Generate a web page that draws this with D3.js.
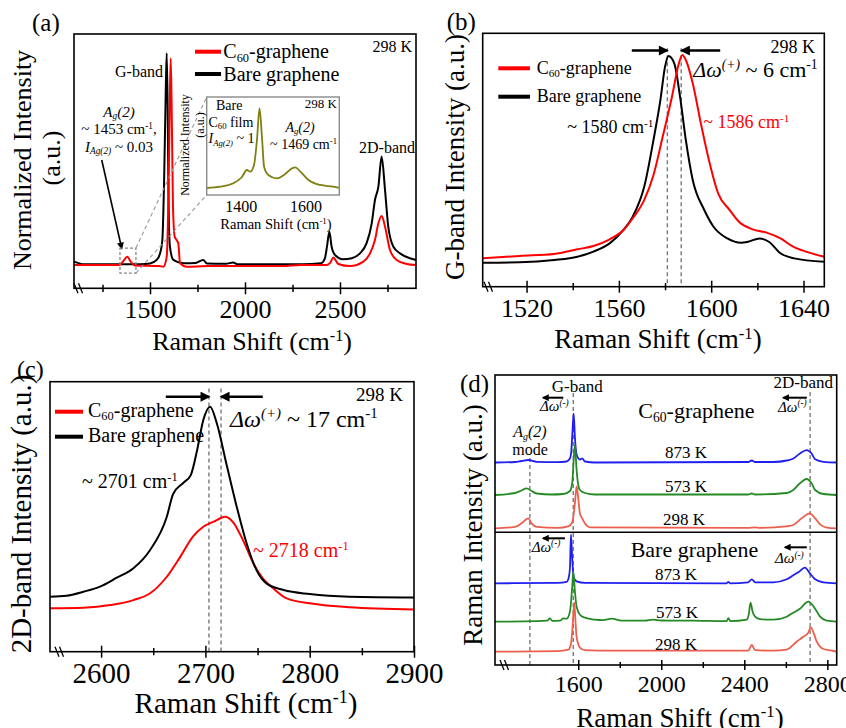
<!DOCTYPE html>
<html>
<head>
<meta charset="utf-8">
<script src="https://cdn.jsdelivr.net/npm/d3@7"></script>
<style>
body { margin: 0; background: #fff; }
svg { display: block; font-family: "Liberation Serif", "Times New Roman", serif; }
</style>
</head>
<body>
<svg id="fig" width="846" height="728"></svg>
<script>
// ---- data (Raman shift in cm-1, intensity in a.u.) ----

// (a) full spectra, 298 K
var aBare = [[1100,0.016],[1120,0.01],[1150,0.003],[1300,0.003],[1450,0.004],[1500,0.007],[1535,0.024],
  [1553,0.055],[1565,0.118],[1575,0.433],[1583,0.827],[1588,1.0],[1593,0.748],[1598,0.275],[1605,0.086],
  [1623,0.024],[1675,0.008],[1740,0.01],[1780,0.024],[1800,0.007],[1900,0.006],[1938,0.012],[1960,0.003],
  [2100,0.003],[2300,0.003],[2400,0.008],[2420,0.03],[2432,0.09],[2444,0.157],[2456,0.086],[2474,0.047],
  [2517,0.027],[2562,0.032],[2605,0.055],[2640,0.103],[2667,0.197],[2684,0.307],[2702,0.37],[2719,0.512],
  [2737,0.354],[2754,0.181],[2781,0.086],[2816,0.055],[2868,0.032],[2900,0.024]];
var aC60 = [[1100,0],[1340,0],[1360,0.019],[1380,0.039],[1400,0.014],[1420,-0.002],[1550,-0.005],[1570,-0.008],
  [1588,0.039],[1596,0.275],[1604,0.748],[1609,0.976],[1614,0.748],[1621,0.275],[1630,0.134],[1640,0.118],
  [1649,0.102],[1658,0.008],[1693,-0.008],[1800,-0.005],[2000,-0.005],[2200,-0.005],[2289,0],[2430,0],
  [2448,0.01],[2465,0.036],[2491,0.005],[2553,-0.005],[2623,0.016],[2658,0.055],[2684,0.118],[2702,0.197],
  [2719,0.231],[2737,0.181],[2763,0.071],[2798,0.024],[2851,0.005],[2900,0]];
// (a) inset: bare C60 film
var insetFilm = [[1295,0],[1336,0.016],[1377,0.059],[1403,0.134],[1419,0.225],[1429,0.204],[1441,0.288],
  [1450,0.6],[1458,0.996],[1466,0.6],[1472,0.266],[1485,0.163],[1511,0.121],[1537,0.175],[1558,0.246],
  [1568,0.259],[1584,0.204],[1609,0.1],[1645,0.038],[1686,0.016],[1704,0]];

// (b) G-band
var bBare = [[1501,-0.005],[1517,-0.003],[1532,0.008],[1542,0.024],[1549,0.049],[1556,0.089],[1562,0.154],
  [1566,0.219],[1571,0.365],[1575,0.592],[1578,0.786],[1580,0.948],[1581.5,1.0],[1584,0.964],[1586.5,0.802],
  [1589,0.592],[1592,0.397],[1597,0.251],[1601,0.17],[1607,0.113],[1613,0.092],[1616,0.097],[1621,0.113],
  [1625,0.097],[1630,0.041],[1636,0.016],[1649,0]];
var bC60 = [[1501,0.016],[1517,0.028],[1532,0.037],[1542,0.06],[1549,0.076],[1556,0.109],[1562,0.154],
  [1566,0.211],[1571,0.3],[1575,0.421],[1579,0.608],[1583,0.802],[1586,0.964],[1587.5,1.005],[1589,0.98],
  [1592,0.867],[1595.5,0.673],[1599,0.494],[1603,0.332],[1608,0.251],[1612,0.194],[1618,0.157],[1624,0.141],
  [1630,0.113],[1635.5,0.073],[1641,0.049],[1649,0.024]];

// (c) 2D-band
var cBare = [[2551,0],[2567,0.005],[2583,0.026],[2599,0.053],[2615,0.1],[2631,0.15],[2647,0.246],[2663,0.421],
  [2669,0.54],[2679,0.6],[2686,0.64],[2692,0.77],[2698,0.93],[2704.5,1.0],[2711,0.912],[2720,0.702],
  [2730,0.474],[2739.5,0.281],[2749,0.14],[2758.5,0.07],[2775,0.035],[2800,0.014],[2838,0],[2900,-0.004]];
var cC60 = [[2551,-0.061],[2583,-0.058],[2609,-0.044],[2631,-0.018],[2647,0.018],[2663,0.105],[2676,0.211],
  [2688,0.316],[2698,0.368],[2708,0.395],[2719,0.421],[2727,0.389],[2736,0.298],[2746,0.175],[2755,0.096],
  [2765,0.044],[2778,-0.009],[2800,-0.035],[2838,-0.056],[2900,-0.067]];

// (d) temperature series, intensity above each trace's own baseline
var dC60_873 = [[1199,0],[1295,0.5],[1327,1.5],[1359,2.5],[1400,0.7],[1500,0.3],[1544,1],[1560,4],[1566,10],
  [1572,30],[1578,49],[1584,25],[1592,8],[1608,3],[1619,4],[1632,1],[1680,0],[2419,0.5],[2436,2],[2452,0.5],
  [2540,0.5],[2604,2],[2636,4],[2668,9],[2700,12.3],[2724,9],[2741,3.3],[2781,0.7],[2845,0]];
var dC60_573 = [[1199,0],[1295,2],[1327,4.5],[1351,6.7],[1375,4],[1400,1.5],[1472,0.5],[1528,1],[1560,4],
  [1571,12],[1578,35],[1584,50],[1592,25],[1600,10],[1608,5],[1632,2],[1680,0.5],[2419,0.5],[2436,1.5],
  [2452,0.5],[2604,2],[2636,5],[2668,11.7],[2700,16],[2724,11.7],[2741,5],[2781,1],[2845,0]];
var dC60_298 = [[1199,0],[1295,1.5],[1327,5],[1359,10],[1375,5],[1400,1.5],[1500,0.5],[1552,2],[1571,6],
  [1584,25],[1592,42],[1600,30],[1608,15],[1619,10],[1632,5],[1656,1],[2419,0.5],[2450,1],[2476,0.5],
  [2604,2],[2636,3.3],[2676,10],[2716,15],[2741,10],[2765,4],[2797,0.7],[2845,0]];
var dBare_873 = [[1199,0],[1500,0.5],[1544,1.5],[1552,4],[1560,15],[1565,49],[1571,25],[1578,6],[1592,2],
  [1632,0.5],[2315,0],[2323,1.5],[2331,0],[2419,1],[2436,4],[2452,1],[2540,1],[2604,4],[2636,8],[2660,11],
  [2692,15.7],[2716,10],[2741,4],[2781,1],[2845,0]];
var dBare_573 = [[1199,0],[1400,0.5],[1450,1],[1464,3.3],[1475,0.8],[1512,1],[1528,3.3],[1544,3],[1560,10],
  [1571,35],[1576,50],[1584,30],[1592,15],[1608,7],[1632,4],[1680,2],[1720,1.5],[1761,3],[1809,1],[1921,1],
  [1960,2],[2000,1.2],[2154,1],[2315,0.5],[2323,3.5],[2333,0.5],[2411,2],[2422,8],[2430,19],[2440,10],
  [2452,5],[2476,2.5],[2540,2],[2604,5],[2636,9],[2668,13],[2708,20],[2741,13],[2765,5],[2797,1],[2845,0]];
var dBare_298 = [[1199,0],[1500,0.5],[1552,2],[1565,8],[1571,20],[1578,42],[1581,49],[1584,40],[1592,15],
  [1608,4],[1632,1.5],[1761,1],[2419,1],[2436,6.7],[2452,1.5],[2540,1],[2604,2],[2652,10],[2684,15],
  [2708,19],[2720,24.3],[2735,18],[2749,10],[2765,5],[2781,2.7],[2829,0.7],[2845,0]];
var dSeries = [dC60_873, dC60_573, dC60_298, dBare_873, dBare_573, dBare_298];
var dOffsets = [202.5, 170, 136.7, 81.7, 43.3, 13.3];
var dTemps = ["873 K", "573 K", "298 K", "873 K", "573 K", "298 K"];

// peak guides / shift arrows
var bGuides = [1581, 1587];
var cGuides = [2703.4, 2715];
var dGuides = [[1367, 207], [1576, 272], [2717, 273]];

var RED = "#ff0000", OLIVE = "#7f7f12";
var dColors = ["#1f1ff0", "#258a25", "#ec5f4c", "#1f1ff0", "#258a25", "#ec5f4c"];

var svg = d3.select("#fig");
var defs = svg.append("defs");
[["ahBig", 12, 10], ["ahSmall", 8, 7]].forEach(function(m) {
  defs.append("marker").attr("id", m[0]).attr("markerUnits", "userSpaceOnUse")
    .attr("viewBox", "0 0 10 10").attr("refX", 8).attr("refY", 5)
    .attr("markerWidth", m[1]).attr("markerHeight", m[2]).attr("orient", "auto")
    .append("path").attr("d", "M0,0L10,5L0,10z").attr("fill", "#000");
});

// ---- helpers ----
function rich(p, x, y, parts, size, anchor, fill) {
  var t = p.append("text").attr("x", x).attr("y", y).attr("font-size", size)
    .attr("text-anchor", anchor || "start").attr("fill", fill || "#000");
  var cur = 0;
  parts.forEach(function(q) {
    if (typeof q === "string") q = [q, ""];
    var f = q[1];
    var off = f.indexOf("p") >= 0 ? -0.36 * size : f.indexOf("b") >= 0 ? 0.16 * size : 0;
    var s = t.append("tspan").text(q[0]);
    if (off !== cur) { s.attr("dy", off - cur); cur = off; }
    if (off !== 0) s.attr("font-size", size * 0.62);
    if (f.indexOf("i") >= 0) s.attr("font-style", "italic");
  });
  return t;
}
function vlabel(p, bx, cy, str, size) {
  p.append("text").attr("transform", "translate(" + bx + "," + cy + ") rotate(-90)")
    .attr("text-anchor", "middle").attr("font-size", size).text(str);
}
function frame(p, x, y, color, w) {
  var xr = x.range(), yr = y.range();
  p.append("rect").attr("x", xr[0]).attr("y", yr[1]).attr("width", xr[1] - xr[0])
    .attr("height", yr[0] - yr[1]).attr("fill", "none").attr("stroke", color || "#000")
    .attr("stroke-width", w || 1.6);
}
function bottomAxis(p, x, y0, major, minor, size, labelY, tick) {
  p.append("g").attr("transform", "translate(0," + y0 + ")")
    .call(d3.axisBottom(x).tickValues(minor).tickSize(tick * 0.6).tickFormat(""))
    .call(function(a) {
      a.select(".domain").remove();
      a.selectAll("line").attr("y1", -tick * 0.6).attr("stroke-width", 1.5);
    });
  p.append("g").attr("transform", "translate(0," + y0 + ")")
    .call(d3.axisBottom(x).tickValues(major).tickSize(tick).tickFormat(d3.format("d")))
    .call(function(a) {
      a.select(".domain").remove();
      a.attr("font-family", null).attr("font-size", size);
      a.selectAll("line").attr("y1", -tick).attr("stroke-width", 1.5);
      a.selectAll("text").attr("y", labelY).attr("dy", null).attr("fill", "#000");
    });
}
function axisBreak(p, x0, y0) {
  [0, 4.5].forEach(function(dx) {
    p.append("line").attr("x1", x0 + dx).attr("y1", y0 - 5).attr("x2", x0 + dx + 4).attr("y2", y0 + 5)
      .attr("stroke", "#000").attr("stroke-width", 1.3);
  });
}
function spectrum(p, x, y, pts, color, w) {
  p.append("path").datum(pts).attr("fill", "none").attr("stroke", color)
    .attr("stroke-width", w).attr("stroke-linejoin", "round")
    .attr("d", d3.line().x(function(d) { return x(d[0]); }).y(function(d) { return y(d[1]); })
      .curve(d3.curveMonotoneX));
}
function guide(p, x, y, xv, top, bottom) {
  p.append("line").attr("x1", x(xv)).attr("x2", x(xv)).attr("y1", y(top)).attr("y2", y(bottom))
    .attr("stroke", "#7a7a7a").attr("stroke-width", 1.4).attr("stroke-dasharray", "4,3");
}
function arrow(p, x, y, x0, x1, y0, y1, w, marker) {
  p.append("line").attr("x1", x(x0)).attr("x2", x(x1)).attr("y1", y(y0)).attr("y2", y(y1))
    .attr("stroke", "#000").attr("stroke-width", w).attr("marker-end", "url(#" + marker + ")");
}
function legendRow(p, x0, x1, yLine, color, tx, ty, parts, size) {
  p.append("line").attr("x1", x0).attr("x2", x1).attr("y1", yLine).attr("y2", yLine)
    .attr("stroke", color).attr("stroke-width", 4);
  rich(p, tx, ty, parts, size);
}
var SUP1 = ["-1", "p"];
var C60 = ["C", ["60", "b"], "-graphene"];
var AG2 = [["A", "i"], ["g", "ib"], ["(2)", "i"]];

// ---- (a) ----
var ga = svg.append("g");
var xa = d3.scaleLinear().domain([1100, 2900]).range([74, 416]);
var ya = d3.scaleLinear().domain([-0.11, 1.091]).range([288.3, 34]);
spectrum(ga, xa, ya, aBare, "#000", 2);
spectrum(ga, xa, ya, aC60, RED, 2);
frame(ga, xa, ya);
bottomAxis(ga, xa, 288.3, [1500, 2000, 2500], [1250, 1750, 2250, 2750], 26, 30, 6);
axisBreak(ga, 74, 288.3);
rich(ga, 32, 30.7, ["(a)"], 25);
vlabel(ga, 31, 160, "Normalized Intensity", 26);
vlabel(ga, 60, 158, "(a.u.)", 26);
rich(ga, 252, 350, ["Raman Shift (cm", SUP1, ")"], 26, "middle");
legendRow(ga, 195, 221, 51.7, RED, 223.3, 58.3, C60, 20);
legendRow(ga, 195, 221, 74, "#000", 223.3, 80.7, ["Bare graphene"], 20);
rich(ga, 412, 52.3, ["298 K"], 16, "end");
rich(ga, 163, 76.7, ["G-band"], 16, "end");
rich(ga, 415, 152.7, ["2D-band"], 16, "end");
rich(ga, 119, 116.5, AG2, 15, "middle");
rich(ga, 119, 134.3, ["~ 1453 cm", SUP1, ","], 15, "middle");
rich(ga, 119, 151.7, [["I", "i"], ["Ag(2)", "ib"], " ~ 0.03"], 15, "middle");
arrow(ga, xa, ya, 1246, 1351, 0.496, 0.079, 1.6, "ahSmall");

// zoom box and inset
var box = [1342, 1426, -0.038, 0.08];
var xi = d3.scaleLinear().domain([1295, 1704]).range([206.7, 339.3]);
var yi = d3.scaleLinear().domain([-0.0875, 1.1375]).range([195, 97]);
ga.append("rect").attr("x", xa(box[0])).attr("y", ya(box[3])).attr("width", xa(box[1]) - xa(box[0]))
  .attr("height", ya(box[2]) - ya(box[3])).attr("fill", "none").attr("stroke", "#888")
  .attr("stroke-width", 1.3).attr("stroke-dasharray", "3,2");
[[box[3], yi.range()[1]], [box[2], yi.range()[0]]].forEach(function(c) {
  ga.append("line").attr("x1", xa(box[1])).attr("y1", ya(c[0])).attr("x2", xi.range()[0]).attr("y2", c[1])
    .attr("stroke", "#999").attr("stroke-width", 1.1).attr("stroke-dasharray", "4,3");
});
ga.append("rect").attr("x", xi.range()[0]).attr("y", yi.range()[1])
  .attr("width", xi.range()[1] - xi.range()[0]).attr("height", yi.range()[0] - yi.range()[1]).attr("fill", "#fff");
spectrum(ga, xi, yi, insetFilm, OLIVE, 1.8);
frame(ga, xi, yi, "#8a8a8a", 1.4);
var ia = ga.append("g").attr("transform", "translate(0,195)")
  .call(d3.axisBottom(xi).tickValues([1400, 1600]).tickSize(0).tickFormat(d3.format("d")));
ia.select(".domain").remove();
ia.attr("font-family", null).attr("font-size", 16);
ia.selectAll("text").attr("y", 16.5).attr("dy", null).attr("fill", "#000");
rich(ga, 276, 229, ["Raman Shift (cm", SUP1, ")"], 14.5, "middle");
vlabel(ga, 189, 145, "Normalized Intensity", 12);
vlabel(ga, 204, 125, "(a.u.)", 12);
rich(ga, 216, 110, ["Bare"], 14);
rich(ga, 208.5, 126.7, ["C", ["60", "b"], " film"], 14);
rich(ga, 208.5, 143.3, [["I", "i"], ["Ag(2)", "ib"], " ~ 1"], 14);
rich(ga, 337, 108, ["298 K"], 13, "end");
rich(ga, 300, 131.5, AG2, 14, "middle");
rich(ga, 337, 148.8, ["~ 1469 cm", SUP1], 14, "end");

// ---- (b) ----
var gb = svg.append("g");
var xb = d3.scaleLinear().domain([1501, 1649]).range([482.7, 824.3]);
var yb = d3.scaleLinear().domain([-0.1216, 1.110]).range([286.7, 33.3]);
bGuides.forEach(function(v) { guide(gb, xb, yb, v, 1.037, -0.1216); });
spectrum(gb, xb, yb, bBare, "#000", 2);
spectrum(gb, xb, yb, bC60, RED, 2);
frame(gb, xb, yb);
bottomAxis(gb, xb, 286.7, [1520, 1560, 1600, 1640], [1540, 1580, 1620], 26, 30, 6);
axisBreak(gb, 484, 286.7);
arrow(gb, xb, yb, 1565.6, 1580.8, 1.026, 1.026, 2.5, "ahBig");
arrow(gb, xb, yb, 1603.9, 1587.3, 1.026, 1.026, 2.5, "ahBig");
rich(gb, 446.7, 30, ["(b)"], 25);
vlabel(gb, 464, 157, "G-band Intensity (a.u.)", 27);
rich(gb, 658, 348.3, ["Raman Shift (cm", SUP1, ")"], 27, "middle");
legendRow(gb, 498.3, 530, 68.3, RED, 536.7, 74, C60, 18);
legendRow(gb, 498.3, 530, 96.7, "#000", 536.7, 101.7, ["Bare graphene"], 18);
rich(gb, 815, 53.3, ["298 K"], 18, "end");
rich(gb, 693.3, 76.7, [["\u0394\u03c9", "i"], ["(+)", "ip"], " ~ 6 cm", SUP1], 22);
rich(gb, 653.3, 133.3, ["~ 1580 cm", SUP1], 18, "end");
rich(gb, 703.3, 128.3, ["~ 1586 cm", SUP1], 18, "start", RED);

// ---- (c) ----
var gc = svg.append("g");
var xc = d3.scaleLinear().domain([2551, 2900]).range([50, 414]);
var yc = d3.scaleLinear().domain([-0.2895, 1.1316]).range([651.7, 381.7]);
cGuides.forEach(function(v) { guide(gc, xc, yc, v, 1.096, -0.2895); });
spectrum(gc, xc, yc, cC60, RED, 2);
spectrum(gc, xc, yc, cBare, "#000", 2);
frame(gc, xc, yc);
bottomAxis(gc, xc, 651.7, [2600, 2700, 2800, 2900], [2650, 2750, 2850], 29, 31.6, 6);
axisBreak(gc, 55, 651.7);
arrow(gc, xc, yc, 2662, 2703, 1.053, 1.053, 2.5, "ahBig");
arrow(gc, xc, yc, 2755, 2715.5, 1.053, 1.053, 2.5, "ahBig");
rich(gc, 17, 376.7, ["(c)"], 24);
vlabel(gc, 31, 514, "2D-band Intensity (a.u.)", 29);
rich(gc, 246, 713, ["Raman Shift (cm", SUP1, ")"], 29, "middle");
legendRow(gc, 55, 83, 411.7, RED, 88, 416.7, C60, 20);
legendRow(gc, 55, 83, 436.7, "#000", 88, 441.7, ["Bare graphene"], 20);
rich(gc, 403, 400.7, ["298 K"], 19, "end");
rich(gc, 230, 426.7, [["\u0394\u03c9", "i"], ["(+)", "ip"], " ~ 17 cm", SUP1], 24);
rich(gc, 82, 488.3, ["~ 2701 cm", SUP1], 20);
rich(gc, 253, 556.7, ["~ 2718 cm", SUP1], 20, "start", RED);

// ---- (d) ----
var gd = svg.append("g");
var xd = d3.scaleLinear().domain([1199, 2845]).range([495, 836.7]);
var yd = d3.scaleLinear().domain([0, 290]).range([665, 375]);
dGuides.forEach(function(g) { guide(gd, xd, yd, g[0], g[1], 0); });
dSeries.forEach(function(s, i) {
  var off = dOffsets[i];
  spectrum(gd, xd, yd, s.map(function(d) { return [d[0], d[1] + off]; }), dColors[i], 1.8);
});
frame(gd, xd, yd);
gd.append("line").attr("x1", xd.range()[0]).attr("x2", xd.range()[1])
  .attr("y1", yd(132.7)).attr("y2", yd(132.7)).attr("stroke", "#000").attr("stroke-width", 1.6);
bottomAxis(gd, xd, 665, [1600, 2000, 2400, 2800], [1800, 2200, 2600], 24, 26.7, 5);
axisBreak(gd, 500, 665);
arrow(gd, xd, yd, 1528, 1431, 267.3, 267.3, 2, "ahSmall");
arrow(gd, xd, yd, 1536, 1431, 126.7, 126.7, 2, "ahSmall");
arrow(gd, xd, yd, 2701, 2588, 267.3, 267.3, 2, "ahSmall");
arrow(gd, xd, yd, 2701, 2596, 117.7, 117.7, 2, "ahSmall");
rich(gd, 460, 391.7, ["(d)"], 25);
vlabel(gd, 482, 525, "Raman Intensity (a.u.)", 27);
rich(gd, 680, 727, ["Raman Shift (cm", SUP1, ")"], 27, "middle");
var dw = [["\u0394\u03c9", "i"], ["(-)", "ip"]];
rich(gd, 551.7, 391.7, ["G-band"], 17);
rich(gd, 540, 411, dw, 15);
rich(gd, 833, 388.3, ["2D-band"], 17, "end");
rich(gd, 778, 411.7, dw, 15);
rich(gd, 531.7, 551.7, dw, 15);
rich(gd, 775, 563.3, dw, 15);
rich(gd, 530, 437, AG2, 16, "middle");
rich(gd, 530, 455, ["mode"], 16, "middle");
rich(gd, 638.3, 418.3, C60, 22);
rich(gd, 758.3, 556.7, ["Bare graphene"], 22, "end");
var tempPos = [[665, 458.3], [665, 492.3], [663, 525], [655, 580], [656, 618.3], [655, 650]];
dTemps.forEach(function(t, i) { rich(gd, tempPos[i][0], tempPos[i][1], [t], 17); });
</script>
</body>
</html>
